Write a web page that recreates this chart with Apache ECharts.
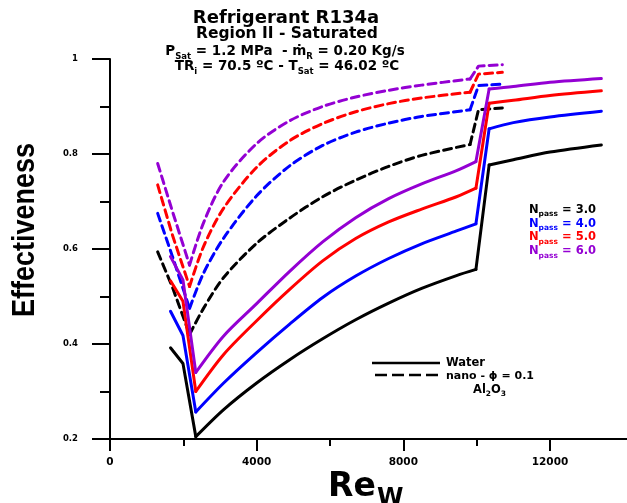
<!DOCTYPE html>
<html>
<head>
<meta charset="utf-8">
<script src="https://cdn.jsdelivr.net/npm/echarts@6/dist/echarts.min.js"></script>
<style>html,body{margin:0;padding:0;background:#fff;}#c{width:627px;height:503px;}</style>
</head>
<body>
<div id="c"></div>
<script>
// ---- data ----
const waterRe = [1650, 1990, 2340, 3100, 4000, 4900, 5800, 6700, 7600, 8500, 9450, 9980, 10340, 11000, 12000, 13400];
const water3 = [0.392, 0.359, 0.205, 0.262, 0.318, 0.367, 0.411, 0.451, 0.486, 0.517, 0.544, 0.557, 0.777, 0.788, 0.804, 0.819];
const water4 = [0.469, 0.418, 0.257, 0.318, 0.382, 0.442, 0.498, 0.543, 0.580, 0.611, 0.638, 0.653, 0.853, 0.866, 0.878, 0.890];
const water5 = [0.533, 0.490, 0.300, 0.378, 0.449, 0.515, 0.575, 0.622, 0.657, 0.684, 0.710, 0.728, 0.907, 0.913, 0.923, 0.933];
const water6 = [0.584, 0.535, 0.340, 0.417, 0.485, 0.553, 0.615, 0.666, 0.706, 0.737, 0.765, 0.784, 0.937, 0.942, 0.951, 0.959];

const nanoRe = [1300, 1700, 2170, 2550, 3100, 4000, 4900, 5800, 6700, 7600, 8500, 9820, 10050, 10700];
const nano3 = [0.594, 0.520, 0.420, 0.475, 0.540, 0.612, 0.665, 0.710, 0.745, 0.774, 0.797, 0.820, 0.893, 0.897];
const nano4 = [0.675, 0.585, 0.475, 0.549, 0.623, 0.712, 0.775, 0.818, 0.846, 0.865, 0.879, 0.893, 0.944, 0.947];
const nano5 = [0.735, 0.630, 0.521, 0.605, 0.686, 0.772, 0.828, 0.864, 0.889, 0.906, 0.918, 0.930, 0.968, 0.972];
const nano6 = [0.780, 0.680, 0.566, 0.655, 0.742, 0.822, 0.870, 0.900, 0.920, 0.934, 0.945, 0.958, 0.985, 0.988];

const passLabels = ['3.0', '4.0', '5.0', '6.0'];
const colors = ['#000000', '#0000ff', '#ff0000', '#9400d3'];
const xMajorTicks = [0, 4000, 8000, 12000];
const xMinorTicks = [2000, 6000, 10000];

// ---- build ----
const F = 'DejaVu Sans';
const waterSets = [water3, water4, water5, water6];
const nanoSets = [nano3, nano4, nano5, nano6];
// pieces: [startIndex, endIndex, smooth]
const waterPieces = [[0, 2, false], [2, 11, true], [11, 12, false], [12, 15, true]];
const nanoPieces = [[0, 2, false], [2, 11, true], [11, 13, false]];
const series = [];
function addPieces(xs, vals, pieces, color, dash, z) {
  pieces.forEach(([a, b, sm]) => {
    const d = [];
    for (let i = a; i <= b; i++) d.push([xs[i], vals[i]]);
    series.push({
      type: 'line', showSymbol: false, symbol: 'none', data: d,
      smooth: sm ? 0.3 : false,
      lineStyle: { color: color, width: 3, type: dash, cap: 'round', join: 'round' }, z: z
    });
  });
}
waterSets.forEach((vals, k) => addPieces(waterRe, vals, waterPieces, colors[k], 'solid', 3));
nanoSets.forEach((vals, k) => addPieces(nanoRe, vals, nanoPieces, colors[k], [8, 5], 2));

const m = (s) => ({ fontSize: s, fontWeight: 'bold', fontFamily: F, lineHeight: s + 3, verticalAlign: 'top' });
const sub = (s) => ({ fontSize: s, fontWeight: 'bold', fontFamily: F, lineHeight: s, verticalAlign: 'bottom' });

const graphic = [
  { type: 'text', x: 286, y: 18, style: { text: 'Refrigerant R134a', font: 'bold 18px "DejaVu Sans"', fill: '#000', align: 'center', verticalAlign: 'middle' } },
  { type: 'text', x: 287, y: 33.5, style: { text: 'Region II - Saturated', font: 'bold 15.5px "DejaVu Sans"', fill: '#000', align: 'center', verticalAlign: 'middle' } },
  { type: 'text', x: 285, y: 53, style: { text: '{m|P}{s|Sat}{m| = 1.2 MPa  - ṁ}{s|R}{m| = 0.20 Kg/s}', rich: { m: m(13.5), s: sub(8.5) }, fill: '#000', align: 'center', verticalAlign: 'middle' } },
  { type: 'text', x: 287, y: 68, style: { text: '{m|TR}{s|i}{m| = 70.5 ºC - T}{s|Sat}{m| = 46.02 ºC}', rich: { m: m(13.5), s: sub(8.5) }, fill: '#000', align: 'center', verticalAlign: 'middle' } },
  { type: 'text', x: 25, y: 230, rotation: Math.PI / 2, scaleX: 0.87, style: { text: 'Effectiveness', font: 'bold 31px "Liberation Sans"', fill: '#000', align: 'center', verticalAlign: 'middle' } },
  { type: 'text', x: 328, y: 487, style: { text: 'Re', font: 'bold 33px "DejaVu Sans"', fill: '#000', align: 'left', verticalAlign: 'middle' } },
  { type: 'text', x: 377, y: 499, style: { text: 'W', font: 'bold 24px "DejaVu Sans"', fill: '#000', align: 'left', verticalAlign: 'middle' } },
  // line-type legend
  { type: 'line', shape: { x1: 372, y1: 363, x2: 440, y2: 363 }, style: { stroke: '#000', lineWidth: 2.5 } },
  { type: 'line', shape: { x1: 375, y1: 375, x2: 440, y2: 375 }, style: { stroke: '#000', lineWidth: 2.5, lineDash: [12, 5] } },
  { type: 'text', x: 446, y: 363, style: { text: 'Water', font: 'bold 11.5px "DejaVu Sans"', fill: '#000', align: 'left', verticalAlign: 'middle' } },
  { type: 'text', x: 446, y: 376, style: { text: 'nano - ϕ = 0.1', font: 'bold 11px "DejaVu Sans"', fill: '#000', align: 'left', verticalAlign: 'middle' } },
  { type: 'text', x: 473, y: 391, style: { text: '{m|Al}{s|2}{m|O}{s|3}', rich: { m: m(11.5), s: sub(7.5) }, fill: '#000', align: 'left', verticalAlign: 'middle' } }
];
passLabels.forEach((p, k) => {
  graphic.push({ type: 'text', x: 529, y: 211 + k * 13.8, style: {
    text: '{m|N}{s|pass}{m| = ' + p + '}',
    rich: { m: Object.assign(m(11.5), { color: colors[k] }), s: Object.assign(sub(7.5), { color: colors[k] }) },
    fill: colors[k], align: 'left', verticalAlign: 'middle' } });
});

const chart = echarts.init(document.getElementById('c'), null, { renderer: 'canvas' });
chart.setOption({
  animation: false,
  backgroundColor: '#fff',
  grid: { left: 110, top: 59, right: 0, bottom: 64, containLabel: false },
  xAxis: [{
    type: 'value', min: 0, max: 14100, position: 'bottom',
    axisLine: { onZero: false, lineStyle: { color: '#000', width: 2 } },
    axisTick: { customValues: xMajorTicks, length: 12, lineStyle: { color: '#000', width: 2 } },
    axisLabel: { customValues: xMajorTicks, formatter: (v) => String(v), color: '#000', fontWeight: 'bold', fontSize: 10.5, fontFamily: F, margin: 18 },
    splitLine: { show: false }
  }, {
    type: 'value', min: 0, max: 14100, position: 'bottom',
    axisLine: { show: false, onZero: false },
    axisTick: { customValues: xMinorTicks, length: 7, lineStyle: { color: '#000', width: 2 } },
    axisLabel: { show: false },
    splitLine: { show: false }
  }],
  yAxis: {
    type: 'value', min: 0.2, max: 1, interval: 0.2,
    axisLine: { show: true, lineStyle: { color: '#000', width: 2 } },
    axisTick: { show: true, length: 18, lineStyle: { color: '#000', width: 2 } },
    minorTick: { show: true, splitNumber: 2, length: 10, lineStyle: { color: '#000', width: 2 } },
    axisLabel: { color: '#000', fontWeight: 'bold', fontSize: 8.5, fontFamily: F, margin: 32 },
    splitLine: { show: false }
  },
  series: series,
  graphic: graphic
});
</script>
</body>
</html>
